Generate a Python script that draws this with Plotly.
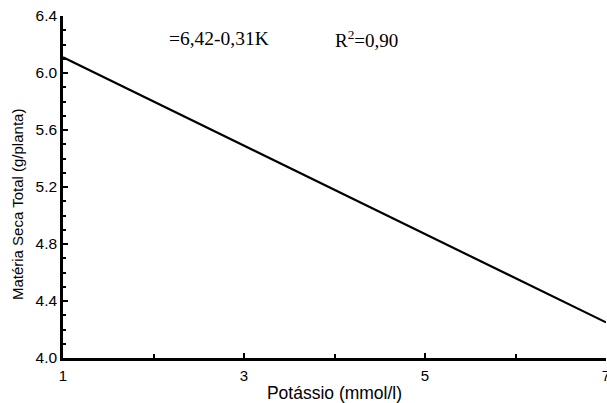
import plotly.graph_objects as go

potassio = [1, 7]
materia_seca = [6.11, 4.25]
x_ticks = [1, 3, 5, 7]
y_ticks = [4.0, 4.4, 4.8, 5.2, 5.6, 6.0, 6.4]
y_tick_labels = ["4.0", "4.4", "4.8", "5.2", "5.6", "6.0", "6.4"]

fig = go.Figure()
fig.add_trace(go.Scatter(x=potassio, y=materia_seca, mode="lines",
                         line=dict(color="black", width=2.2), showlegend=False,
                         cliponaxis=False))

fig.update_layout(
    width=607, height=403,
    margin=dict(l=63, r=1, t=16, b=45, autoexpand=False),
    paper_bgcolor="white", plot_bgcolor="white",
    font=dict(family="Arial, Liberation Sans", color="black"),
    xaxis=dict(range=[1, 7], tickvals=x_ticks, ticktext=[str(v) for v in x_ticks],
               ticks="inside", ticklen=5, tickwidth=2, tickcolor="black",
               showline=True, linecolor="black", linewidth=2.5,
               showgrid=False, zeroline=False, automargin=False,
               ticklabeloverflow="allow", ticklabelstandoff=2,
               tickfont=dict(size=15),
               minor=dict(tickvals=[2, 4, 6], ticks="inside", ticklen=4, tickwidth=2, tickcolor="black", showgrid=False),
               title=dict(text="Potássio (mmol/l)", font=dict(size=17.5), standoff=4)),
    yaxis=dict(range=[4.0, 6.4], tickvals=y_ticks, ticktext=y_tick_labels,
               ticks="inside", ticklen=5, tickwidth=2, tickcolor="black",
               showline=True, linecolor="black", linewidth=2.5,
               showgrid=False, zeroline=False, automargin=False,
               ticklabeloverflow="allow",
               tickfont=dict(size=15.5),
               minor=dict(dtick=0.1, ticks="inside", ticklen=3, tickwidth=2, tickcolor="black", showgrid=False)),
)

fig.add_annotation(x=-0.0847, y=0.45, xref="paper", yref="paper", xanchor="center", yanchor="middle",
                   text="Matéria Seca Total (g/planta)", textangle=-90, showarrow=False,
                   font=dict(family="Arial, Liberation Sans", size=15, color="black"))
fig.add_annotation(x=0.1915, y=0.933, xref="paper", yref="paper", xanchor="left", yanchor="middle",
                   text="=6,42-0,31K", showarrow=False,
                   font=dict(family="Times New Roman, Liberation Serif", size=19.5, color="black"))
fig.add_annotation(x=0.497, y=0.933, xref="paper", yref="paper", xanchor="left", yanchor="middle",
                   text="R<sup>2</sup>=0,90", showarrow=False,
                   font=dict(family="Times New Roman, Liberation Serif", size=19, color="black"))

fig.write_html("out.html", config={"displayModeBar": False},
               post_script="document.body.style.margin='0';document.body.style.overflow='hidden';")
